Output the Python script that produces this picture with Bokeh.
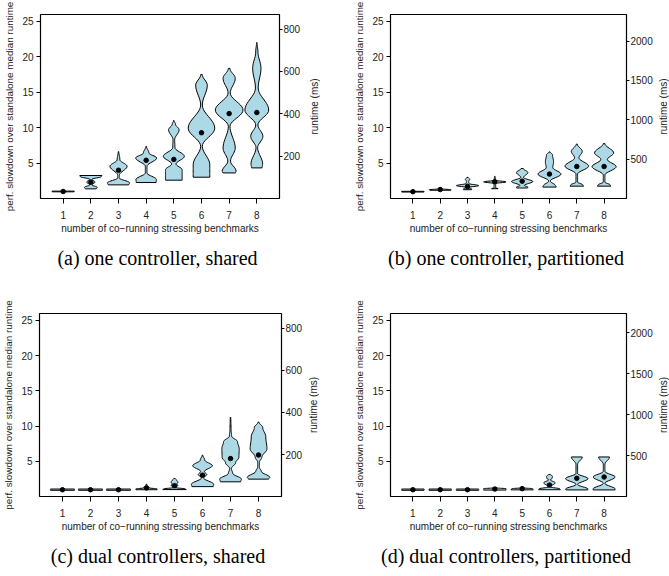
import numpy as np
from bokeh.plotting import figure
from bokeh.models import Range1d, LinearAxis, FixedTicker, Title
from bokeh.layouts import column, row
from bokeh.embed import file_html
from bokeh.resources import INLINE

# ---------------- data ----------------
positions = [1, 2, 3, 4, 5, 6, 7, 8]
x_tick_labels = ["1", "2", "3", "4", "5", "6", "7", "8"]
slowdown_ticks = [5, 10, 15, 20, 25]
runtime_ticks_one = [200, 400, 600, 800]
runtime_ticks_part = [500, 1000, 1500, 2000]
ms_per_unit_a = 33.45
ms_per_unit_b = 90.0
ms_per_unit_c = 33.5
ms_per_unit_d = 86.0

# violin outlines: y levels (slowdown) and half widths (x units), bottom -> top
a_medians = [1.03, 2.34, 4.02, 5.42, 5.55, 9.3, 12.0, 12.15]
a_levels = [
    [0.98, 1.08],
    [1.40, 1.62, 1.95, 2.35, 2.75, 3.12, 3.28],
    [1.96, 2.24, 2.94, 3.30, 4.58, 5.50, 6.64],
    [2.29, 2.71, 3.64, 4.58, 5.75, 6.45, 7.38],
    [2.62, 3.60, 4.10, 4.90, 5.98, 7.20, 8.32, 9.72, 10.5, 11.03],
    [3.04, 4.80, 7.40, 9.95, 13.2, 16.0, 17.48],
    [3.64, 3.90, 5.30, 7.15, 10.2, 12.5, 14.9, 16.96, 18.36],
    [4.35, 4.90, 7.20, 8.80, 10.4, 12.5, 15.6, 18.4, 20.7, 22.0],
]
a_widths = [
    [0.40, 0.40],
    [0.20, 0.23, 0.04, 0.15, 0.04, 0.38, 0.40],
    [0.37, 0.40, 0.03, 0.03, 0.31, 0.05, 0.01],
    [0.36, 0.37, 0.03, 0.03, 0.38, 0.10, 0.01],
    [0.30, 0.30, 0.30, 0.08, 0.38, 0.04, 0.03, 0.19, 0.06, 0.01],
    [0.30, 0.30, 0.03, 0.48, 0.03, 0.21, 0.03],
    [0.23, 0.25, 0.05, 0.22, 0.03, 0.50, 0.04, 0.22, 0.03],
    [0.19, 0.21, 0.03, 0.22, 0.04, 0.43, 0.05, 0.15, 0.04, 0.01],
]

b_medians = [1.0, 1.30, 1.74, 2.40, 2.48, 3.48, 4.55, 4.55]
b_levels = [
    [0.95, 1.05],
    [1.20, 1.28, 1.38, 1.55],
    [1.28, 1.38, 1.60, 1.85, 2.15, 2.45, 2.75, 3.02],
    [1.42, 1.55, 2.15, 2.38, 2.60, 3.16],
    [1.52, 1.65, 1.88, 2.43, 3.00, 3.70, 4.26],
    [1.65, 1.85, 2.50, 3.48, 4.40, 5.20, 6.20, 6.60],
    [1.78, 1.95, 2.35, 3.48, 4.60, 5.77, 6.68, 7.70],
    [1.78, 1.95, 2.35, 3.34, 4.53, 5.54, 6.46, 7.78],
]
b_widths = [
    [0.41, 0.41],
    [0.38, 0.40, 0.10, 0.02],
    [0.15, 0.15, 0.04, 0.41, 0.05, 0.04, 0.08, 0.02],
    [0.12, 0.03, 0.03, 0.41, 0.03, 0.01],
    [0.20, 0.21, 0.08, 0.39, 0.05, 0.21, 0.04],
    [0.25, 0.22, 0.03, 0.42, 0.12, 0.15, 0.11, 0.02],
    [0.25, 0.22, 0.03, 0.03, 0.43, 0.08, 0.20, 0.02],
    [0.25, 0.22, 0.03, 0.03, 0.44, 0.12, 0.35, 0.03],
]

c_medians = [1.0, 1.0, 1.0, 1.25, 1.55, 3.06, 5.41, 5.92]
c_levels = [
    [0.92, 1.10],
    [0.92, 1.10],
    [0.92, 1.10],
    [1.00, 1.12, 1.25, 1.35, 1.50, 1.80],
    [1.02, 1.12, 1.30, 1.60, 1.85, 2.05, 2.35, 2.60],
    [1.44, 1.76, 2.67, 3.13, 3.58, 4.40, 5.20, 5.91],
    [2.12, 2.50, 3.30, 4.00, 4.80, 5.60, 6.80, 7.80, 8.60, 9.50, 11.25],
    [2.50, 2.75, 3.60, 4.20, 4.90, 5.60, 6.80, 8.50, 9.80, 10.57],
]
c_widths = [
    [0.43, 0.43],
    [0.43, 0.43],
    [0.43, 0.43],
    [0.38, 0.38, 0.10, 0.10, 0.03, 0.01],
    [0.42, 0.38, 0.04, 0.12, 0.08, 0.13, 0.08, 0.02],
    [0.38, 0.40, 0.04, 0.15, 0.07, 0.35, 0.08, 0.01],
    [0.36, 0.39, 0.08, 0.03, 0.18, 0.30, 0.31, 0.25, 0.04, 0.02, 0.01],
    [0.36, 0.40, 0.10, 0.03, 0.03, 0.12, 0.30, 0.26, 0.15, 0.02],
]

d_medians = [1.0, 1.0, 1.0, 1.10, 1.15, 1.66, 2.62, 2.80]
d_levels = [
    [0.92, 1.10],
    [0.92, 1.10],
    [0.92, 1.10],
    [0.95, 1.15, 1.25],
    [0.98, 1.15, 1.25, 1.43],
    [1.00, 1.12, 1.40, 1.98, 2.40, 2.62, 2.90, 3.17],
    [0.97, 1.08, 1.75, 2.57, 3.30, 4.60, 5.64],
    [0.97, 1.08, 1.90, 2.80, 3.60, 4.60, 5.64],
]
d_widths = [
    [0.41, 0.41],
    [0.41, 0.41],
    [0.41, 0.41],
    [0.41, 0.41, 0.10],
    [0.41, 0.38, 0.08, 0.02],
    [0.40, 0.38, 0.03, 0.21, 0.03, 0.10, 0.11, 0.03],
    [0.40, 0.41, 0.03, 0.41, 0.03, 0.03, 0.20],
    [0.40, 0.41, 0.03, 0.40, 0.03, 0.03, 0.20],
]

captions = ["(a)  one controller, shared", "(b)  one controller, partitioned",
            "(c)  dual controllers, shared", "(d)  dual controllers, partitioned"]
x_label = "number of co\u2212running stressing benchmarks"
y_label = "perf. slowdown over standalone median runtime"
y2_label = "runtime (ms)"

FILL = "#ADD8E6"
SANS = "Liberation Sans"
SERIF = "Liberation Serif"
TXT = "#222222"


def outline(pos, ys, ws, n=10):
    yy, ww = [ys[0]], [ws[0]]
    for i in range(len(ys) - 1):
        t = np.linspace(0, 1, n + 1)[1:]
        e = (1 - np.cos(np.pi * t)) / 2
        yy.extend(ys[i] + (ys[i + 1] - ys[i]) * t)
        ww.extend(ws[i] + (ws[i + 1] - ws[i]) * e)
    yy = np.array(yy)
    ww = np.array(ww)
    xs = np.concatenate([pos - ww, (pos + ww)[::-1]])
    yv = np.concatenate([yy, yy[::-1]])
    return list(xs), list(yv)


def style_axis(ax, tick_out=4, label_standoff=2, axis_label_standoff=2, label_size="10px"):
    ax.axis_line_color = None
    ax.major_tick_in = 0
    ax.major_tick_out = tick_out
    ax.major_tick_line_color = "black"
    ax.major_tick_line_width = 1
    ax.minor_tick_line_color = None
    ax.major_label_text_font = SANS
    ax.major_label_text_font_size = "10px"
    ax.major_label_text_color = TXT
    ax.major_label_standoff = label_standoff
    ax.axis_label_text_font = SANS
    ax.axis_label_text_font_size = label_size
    ax.axis_label_text_font_style = "normal"
    ax.axis_label_text_color = TXT
    ax.axis_label_standoff = axis_label_standoff


def panel(levels, widths, medians, ms_per_unit, rt_ticks, caption,
          width, height, bl, br, bt, bb, cap_offset, cap_standoff):
    p = figure(width=width, height=height,
               x_range=Range1d(0.18, 8.82), y_range=Range1d(0.04, 25.96),
               output_backend="svg", toolbar_location=None,
               min_border_left=bl, min_border_right=br,
               min_border_top=bt, min_border_bottom=bb)
    p.xgrid.visible = False
    p.ygrid.visible = False
    p.outline_line_color = "black"
    p.outline_line_width = 1.2
    p.background_fill_color = "white"
    p.border_fill_color = "white"

    xs_all, ys_all = [], []
    for pos, ys, ws in zip(positions, levels, widths):
        xs, yv = outline(pos, ys, ws)
        xs_all.append(xs)
        ys_all.append(yv)
    p.patches(xs_all, ys_all, fill_color=FILL, line_color="black", line_width=1)
    p.scatter(positions, medians, size=4.5, color="black")

    xa = p.xaxis[0]
    style_axis(xa, tick_out=5, label_standoff=7, axis_label_standoff=1)
    xa.ticker = FixedTicker(ticks=positions)
    xa.major_label_overrides = {pos: lab for pos, lab in zip(positions, x_tick_labels)}
    xa.axis_label = x_label

    ya = p.yaxis[0]
    style_axis(ya, tick_out=4, label_standoff=3, axis_label_standoff=4, label_size="9.9px")
    ya.ticker = FixedTicker(ticks=slowdown_ticks)
    ya.axis_label = y_label

    p.extra_y_ranges = {"rt": Range1d(0.04 * ms_per_unit, 25.96 * ms_per_unit)}
    ra = LinearAxis(y_range_name="rt", ticker=FixedTicker(ticks=rt_ticks))
    style_axis(ra, tick_out=3, label_standoff=1)
    p.add_layout(ra, "right")

    p.add_layout(Title(text=caption, align="center", offset=cap_offset,
                       text_font=SERIF, text_font_size="20px",
                       text_font_style="normal", text_color="black",
                       standoff=cap_standoff), "below")
    return p


def right_title(width, height, bt, bb):
    # narrow strip holding the right-hand axis title, reading bottom-to-top
    s = figure(width=width, height=height, output_backend="svg", toolbar_location=None,
               x_axis_location=None, y_axis_location=None,
               x_range=Range1d(0, 1), y_range=Range1d(0, 1),
               min_border_left=0, min_border_right=0,
               min_border_top=bt, min_border_bottom=bb)
    s.xgrid.visible = False
    s.ygrid.visible = False
    s.outline_line_color = None
    s.background_fill_color = "white"
    s.border_fill_color = "white"
    s.add_layout(Title(text=y2_label, align="center", text_font=SANS,
                       text_font_size="10px", text_font_style="normal",
                       text_color=TXT, standoff=0), "left")
    return s


pa = panel(a_levels, a_widths, a_medians, ms_per_unit_a, runtime_ticks_one, captions[0],
           306, 276, 40, 27, 14, 76, 3, 16)
sa = right_title(14, 276, 14, 76)
pb = panel(b_levels, b_widths, b_medians, ms_per_unit_b, runtime_ticks_part, captions[1],
           335, 276, 70, 26, 14, 75, 6, 16)
sb = right_title(14, 276, 14, 75)
pc = panel(c_levels, c_widths, c_medians, ms_per_unit_c, runtime_ticks_one, captions[2],
           305, 299, 37, 23, 37, 75, 3, 17)
sc = right_title(14, 299, 37, 75)
pd = panel(d_levels, d_widths, d_medians, ms_per_unit_d, runtime_ticks_part, captions[3],
           336, 299, 71, 26, 37, 75, 6, 17)
sd = right_title(14, 299, 37, 75)

layout = column(row(pa, sa, pb, sb), row(pc, sc, pd, sd))
open("out.html", "w").write(file_html(layout, INLINE))
